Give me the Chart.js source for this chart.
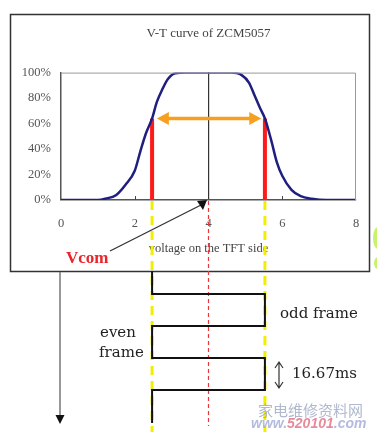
<!DOCTYPE html>
<html>
<head>
<meta charset="utf-8">
<script src="https://cdn.jsdelivr.net/npm/chart.js@4.4.0/dist/chart.umd.min.js"></script>
<style>
  html, body { margin: 0; padding: 0; background: #fff; }
  canvas { display: block; }
</style>
</head>
<body>
<canvas id="vt" width="377" height="432"></canvas>
<script>
// V-T curve, voltage (V) vs transmittance (%)
var voltage = [0, 0.5, 1.0, 1.2, 1.5, 1.75, 2.0, 2.15, 2.3, 2.47, 2.6, 2.75, 2.9, 3.1, 3.4, 4.0,
               4.6, 4.9, 5.1, 5.25, 5.4, 5.53, 5.7, 5.85, 6.0, 6.25, 6.5, 6.8, 7.2, 8.0];
var transmittance = [0, 0, 0, 1, 4, 12, 23, 38, 52, 64, 77, 87, 95, 99.5, 100, 100,
                     100, 98, 92, 82, 72, 64, 47, 30, 19, 8, 3, 1, 0, 0];

var xTicks = [0, 2, 4, 6, 8];
var yTicks = [0, 20, 40, 60, 80, 100];

var vcom = 4;
var driveLow = 2.47;
var driveHigh = 5.53;
var driveLevel = 64;
var arrowFrom = 2.6;
var arrowTo = 5.43;
var frameMs = 16.67;

var serif = "'Liberation Serif', 'Times New Roman', serif";

var curve = voltage.map(function (v, i) { return {x: v, y: transmittance[i]}; });

var diagram = {
  id: 'diagram',
  beforeDraw: function (chart) {
    var ctx = chart.ctx;
    ctx.save();
    ctx.fillStyle = '#fff';
    ctx.fillRect(0, 0, chart.width, chart.height);
    ctx.strokeStyle = '#333';
    ctx.lineWidth = 1.5;
    ctx.strokeRect(10.5, 14.5, 359, 257);
    ctx.restore();
  },
  afterDraw: function (chart) {
    var ctx = chart.ctx;
    var a = chart.chartArea;
    var x = chart.scales.x, y = chart.scales.y;
    var xl = x.getPixelForValue(driveLow);
    var xr = x.getPixelForValue(driveHigh);
    var xc = x.getPixelForValue(vcom);
    var yd = y.getPixelForValue(driveLevel);
    ctx.save();

    // plot frame, top and right
    ctx.strokeStyle = '#999';
    ctx.lineWidth = 1;
    ctx.beginPath();
    ctx.moveTo(a.left, a.top + 0.5);
    ctx.lineTo(a.right - 0.5, a.top + 0.5);
    ctx.lineTo(a.right - 0.5, a.bottom);
    ctx.stroke();

    // small inside ticks
    ctx.strokeStyle = '#444';
    [2, 6].forEach(function (v) {
      var px = Math.round(x.getPixelForValue(v)) + 0.5;
      ctx.beginPath();
      ctx.moveTo(px, a.bottom);
      ctx.lineTo(px, a.bottom - 4);
      ctx.stroke();
    });

    // orange arrow heads
    ctx.fillStyle = '#f7a020';
    var al = x.getPixelForValue(arrowFrom), ar = x.getPixelForValue(arrowTo);
    ctx.beginPath();
    ctx.moveTo(al, yd); ctx.lineTo(al + 12, yd - 6.5); ctx.lineTo(al + 12, yd + 6.5); ctx.closePath();
    ctx.fill();
    ctx.beginPath();
    ctx.moveTo(ar, yd); ctx.lineTo(ar - 12, yd - 6.5); ctx.lineTo(ar - 12, yd + 6.5); ctx.closePath();
    ctx.fill();

    // dashed guides below the plot
    ctx.setLineDash([9, 6]);
    ctx.strokeStyle = '#f2ee00';
    ctx.lineWidth = 3;
    [xl, xr].forEach(function (px) {
      ctx.beginPath();
      ctx.moveTo(px, a.bottom + 1);
      ctx.lineTo(px, chart.height);
      ctx.stroke();
    });
    ctx.setLineDash([4, 3]);
    ctx.strokeStyle = '#e8383d';
    ctx.lineWidth = 1.2;
    ctx.beginPath();
    ctx.moveTo(xc, a.bottom + 1);
    ctx.lineTo(xc, 426);
    ctx.stroke();
    ctx.setLineDash([]);

    // Vcom pointer
    ctx.strokeStyle = '#333';
    ctx.lineWidth = 1.3;
    ctx.beginPath();
    ctx.moveTo(110, 251);
    ctx.lineTo(201, 205);
    ctx.stroke();
    ctx.fillStyle = '#111';
    ctx.beginPath();
    ctx.moveTo(197, 201); ctx.lineTo(207, 200); ctx.lineTo(203, 210); ctx.closePath();
    ctx.fill();

    ctx.fillStyle = '#e8262a';
    ctx.font = 'bold 17px ' + serif;
    ctx.textBaseline = 'alphabetic';
    ctx.fillText('Vcom', 66, 263);

    // drive waveform, one frame = frameMs
    var msPx = 32 / frameMs;
    var edge = function (k) { return 294 + k * frameMs * msPx; };
    ctx.strokeStyle = '#111';
    ctx.lineWidth = 2;
    ctx.beginPath();
    ctx.moveTo(xl, 271);
    ctx.lineTo(xl, edge(0)); ctx.lineTo(xr, edge(0));
    ctx.lineTo(xr, edge(1)); ctx.lineTo(xl, edge(1));
    ctx.lineTo(xl, edge(2)); ctx.lineTo(xr, edge(2));
    ctx.lineTo(xr, edge(3)); ctx.lineTo(xl, edge(3));
    ctx.lineTo(xl, 423);
    ctx.stroke();

    // labels
    ctx.fillStyle = '#222';
    ctx.font = "15px 'DejaVu Serif', serif";
    ctx.textBaseline = 'middle';
    ctx.fillText('odd frame', 280, 314);
    ctx.fillText('even', 100, 333);
    ctx.fillText('frame', 99, 353);
    ctx.fillText(frameMs.toFixed(2) + 'ms', 292, 374);

    // period arrow
    ctx.strokeStyle = '#333';
    ctx.lineWidth = 1.2;
    ctx.beginPath();
    ctx.moveTo(279, 363); ctx.lineTo(279, 387);
    ctx.moveTo(275, 368); ctx.lineTo(279, 362); ctx.lineTo(283, 368);
    ctx.moveTo(275, 382); ctx.lineTo(279, 388); ctx.lineTo(283, 382);
    ctx.stroke();

    // time arrow on the left
    ctx.strokeStyle = '#777';
    ctx.lineWidth = 1.5;
    ctx.beginPath();
    ctx.moveTo(60, 272); ctx.lineTo(60, 416);
    ctx.stroke();
    ctx.fillStyle = '#111';
    ctx.beginPath();
    ctx.moveTo(55.5, 415); ctx.lineTo(64.5, 415); ctx.lineTo(60, 424); ctx.closePath();
    ctx.fill();

    // watermark
    ctx.fillStyle = 'rgba(150,160,190,0.75)';
    ctx.font = "15px 'Noto Sans CJK SC', sans-serif";
    ctx.fillText('家电维修资料网', 258, 410);
    ctx.font = "italic bold 14px 'Liberation Sans', sans-serif";
    var wx = 251;
    ctx.fillStyle = 'rgba(160,170,215,0.8)';
    ctx.fillText('www.', wx, 424);
    wx += ctx.measureText('www.').width;
    ctx.fillStyle = 'rgba(225,110,130,0.8)';
    ctx.fillText('520101', wx, 424);
    wx += ctx.measureText('520101').width;
    ctx.fillStyle = 'rgba(160,170,215,0.8)';
    ctx.fillText('.com', wx, 424);

    ctx.fillStyle = 'rgba(190,240,80,0.85)';
    ctx.beginPath(); ctx.ellipse(378, 238, 5, 11, 0, 0, Math.PI * 2); ctx.fill();
    ctx.beginPath(); ctx.ellipse(378, 263, 4, 6, 0, 0, Math.PI * 2); ctx.fill();

    ctx.restore();
  }
};

new Chart(document.getElementById('vt'), {
  type: 'scatter',
  data: {
    datasets: [{
      data: curve,
      showLine: true,
      borderColor: '#1f1f80',
      borderWidth: 2.5,
      pointRadius: 0,
      cubicInterpolationMode: 'monotone'
    }, {
      data: [{x: driveLow, y: 0}, {x: driveLow, y: driveLevel}],
      showLine: true,
      borderColor: '#ff1a1a',
      borderWidth: 4,
      pointRadius: 0
    }, {
      data: [{x: driveHigh, y: 0}, {x: driveHigh, y: driveLevel}],
      showLine: true,
      borderColor: '#ff1a1a',
      borderWidth: 4,
      pointRadius: 0
    }, {
      data: [{x: arrowFrom + 0.2, y: driveLevel}, {x: arrowTo - 0.2, y: driveLevel}],
      showLine: true,
      borderColor: '#f7a020',
      borderWidth: 3.5,
      pointRadius: 0
    }]
  },
  options: {
    responsive: false,
    animation: false,
    layout: {
      padding: {top: 14, left: 0, right: 21, bottom: 176}
    },
    scales: {
      x: {
        type: 'linear',
        min: 0,
        max: 8,
        afterFit: function (s) { s.height = 56; },
        afterBuildTicks: function (s) { s.ticks = xTicks.map(function (v) { return {value: v}; }); },
        grid: {
          drawTicks: false,
          color: function (c) { return c.tick && c.tick.value === vcom ? '#333' : 'rgba(0,0,0,0)'; },
          lineWidth: 1.2
        },
        border: {color: '#555', width: 1.5},
        ticks: {
          padding: 16,
          color: '#555',
          font: {family: serif, size: 12.5}
        },
        title: {
          display: true,
          text: 'voltage on the TFT side',
          color: '#444',
          font: {family: serif, size: 12.5},
          padding: 0
        }
      },
      y: {
        min: 0,
        max: 100,
        afterFit: function (s) { s.width = 61; },
        afterBuildTicks: function (s) { s.ticks = yTicks.map(function (v) { return {value: v}; }); },
        grid: {display: false, drawTicks: false},
        border: {color: '#555', width: 1.5},
        ticks: {
          padding: 10,
          color: '#555',
          font: {family: serif, size: 12.5},
          callback: function (v) { return v + '%'; }
        }
      }
    },
    plugins: {
      legend: {display: false},
      tooltip: {enabled: false},
      title: {
        display: true,
        fullSize: false,
        text: 'V-T curve of ZCM5057',
        color: '#444',
        font: {family: serif, size: 13, weight: 'normal'},
        padding: {top: 11.5, bottom: 31.5}
      }
    }
  },
  plugins: [diagram]
});
</script>
</body>
</html>
